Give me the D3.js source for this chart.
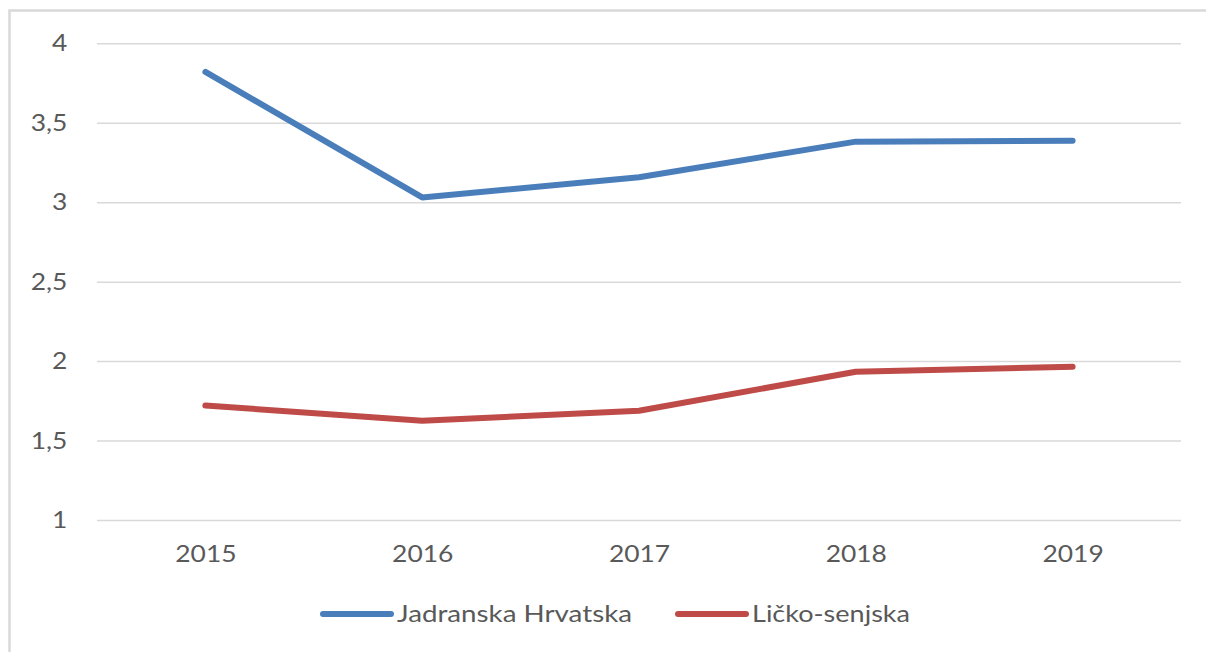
<!DOCTYPE html>
<html>
<head>
<meta charset="utf-8">
<script src="https://cdn.jsdelivr.net/npm/d3@7"></script>
<style>
  body { margin: 0; background: #fff; }
  svg text { font-family: Lato, "Open Sans", sans-serif; fill: #595959; }
</style>
</head>
<body>
<div class="chart"></div>
<script>
const years = ["2015", "2016", "2017", "2018", "2019"];
const jadranska = [3.82, 3.03, 3.157, 3.381, 3.387];
const licko = [1.72, 1.625, 1.688, 1.933, 1.965];
const yTicks = [1, 1.5, 2, 2.5, 3, 3.5, 4];
const seriesNames = ["Jadranska Hrvatska", "Ličko-senjska"];
const colors = ["#4a7ebb", "#be4b48"];

const w = 1206, h = 652;
const stretch = 1.1; // reference text is a bit wider than Lato

const svg = d3.select(".chart")
  .append("svg")
    .attr("width", w)
    .attr("height", h);

// outer chart border
svg.append("rect")
  .attr("x", 9.5)
  .attr("y", 10.5)
  .attr("width", w + 20)
  .attr("height", h + 20)
  .attr("fill", "none")
  .attr("stroke", "#d9d9d9")
  .attr("stroke-width", 2.5);

const xScale = d3.scalePoint()
  .domain(years)
  .range([97, 1181])
  .padding(0.5);

const yScale = d3.scaleLinear()
  .domain([1, 4])
  .range([520, 43.3]);

const fmt = d => String(d).replace(".", ",");

// horizontal gridlines + y labels
const yAxis = d3.axisLeft(yScale)
  .tickValues(yTicks)
  .tickSize(-(1181 - 97))
  .tickPadding(27)
  .tickFormat(fmt);

svg.append("g")
  .attr("class", "axis y-axis")
  .attr("transform", "translate(97,0)")
  .call(yAxis)
  .call(g => g.select(".domain").remove())
  .call(g => g.selectAll(".tick line")
    .attr("stroke", "#d9d9d9")
    .attr("stroke-width", 1.5))
  .call(g => g.selectAll(".tick text")
    .attr("font-size", 24)
    .attr("fill", "#595959")
    .attr("transform", `scale(${stretch},1)`));

const xAxis = d3.axisBottom(xScale)
  .tickSize(0)
  .tickPadding(25);

svg.append("g")
  .attr("class", "axis x-axis")
  .attr("transform", "translate(0,520)")
  .call(xAxis)
  .call(g => g.select(".domain").remove())
  .call(g => g.selectAll(".tick text")
    .attr("font-size", 24)
    .attr("fill", "#595959")
    .attr("transform", `scale(${stretch},1)`));

const line = d3.line()
  .x((d, i) => xScale(years[i]))
  .y(d => yScale(d));

[jadranska, licko].forEach((s, k) => {
  svg.append("path")
    .datum(s)
    .attr("fill", "none")
    .attr("stroke", colors[k])
    .attr("stroke-width", 6)
    .attr("stroke-linecap", "round")
    .attr("stroke-linejoin", "round")
    .attr("d", line);
});

// legend
const legendX = [323, 678];
const legendLen = [235, 158];
const legend = svg.append("g").attr("class", "legend");
seriesNames.forEach((name, k) => {
  legend.append("line")
    .attr("x1", legendX[k])
    .attr("x2", legendX[k] + 68)
    .attr("y1", 614)
    .attr("y2", 614)
    .attr("stroke", colors[k])
    .attr("stroke-width", 6)
    .attr("stroke-linecap", "round");
  legend.append("text")
    .attr("x", legendX[k] + 74)
    .attr("y", 614)
    .attr("dy", "0.35em")
    .attr("font-size", 24)
    .attr("textLength", legendLen[k])
    .attr("lengthAdjust", "spacingAndGlyphs")
    .text(name);
});
</script>
</body>
</html>
